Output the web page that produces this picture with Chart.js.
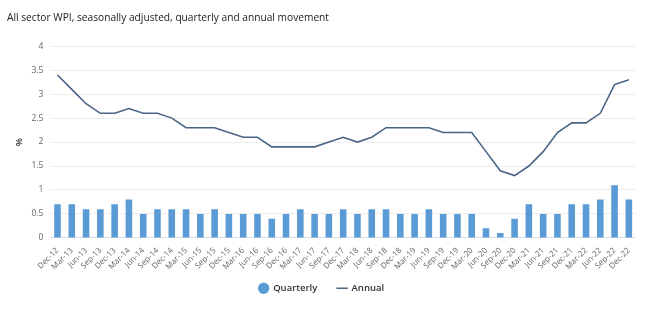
<!DOCTYPE html>
<html>
<head>
<meta charset="utf-8">
<script src="https://cdn.jsdelivr.net/npm/chart.js@4.4.1/dist/chart.umd.min.js"></script>
<style>
  html, body { margin: 0; padding: 0; background: #fff; }
  #wrap { width: 650px; height: 321px; position: relative; }
</style>
</head>
<body>
<div id="wrap"><canvas id="wpiChart"></canvas></div>
<script>
// quarter labels, Dec-12 .. Dec-22
const quarters = [
    'Dec-12', 'Mar-13', 'Jun-13', 'Sep-13', 'Dec-13', 'Mar-14', 'Jun-14', 'Sep-14', 'Dec-14',
    'Mar-15', 'Jun-15', 'Sep-15', 'Dec-15', 'Mar-16', 'Jun-16', 'Sep-16', 'Dec-16',
    'Mar-17', 'Jun-17', 'Sep-17', 'Dec-17', 'Mar-18', 'Jun-18', 'Sep-18', 'Dec-18',
    'Mar-19', 'Jun-19', 'Sep-19', 'Dec-19', 'Mar-20', 'Jun-20', 'Sep-20', 'Dec-20',
    'Mar-21', 'Jun-21', 'Sep-21', 'Dec-21', 'Mar-22', 'Jun-22', 'Sep-22', 'Dec-22'
];

// quarterly movement (%)
const quarterly = [
    0.7, 0.7, 0.6, 0.6, 0.7, 0.8, 0.5, 0.6, 0.6,
    0.6, 0.5, 0.6, 0.5, 0.5, 0.5, 0.4, 0.5,
    0.6, 0.5, 0.5, 0.6, 0.5, 0.6, 0.6, 0.5,
    0.5, 0.6, 0.5, 0.5, 0.5, 0.2, 0.1, 0.4,
    0.7, 0.5, 0.5, 0.7, 0.7, 0.8, 1.1, 0.8
];

// annual movement (%)
const annual = [
    3.4, 3.1, 2.8, 2.6, 2.6, 2.7, 2.6, 2.6, 2.5,
    2.3, 2.3, 2.3, 2.2, 2.1, 2.1, 1.9, 1.9,
    1.9, 1.9, 2.0, 2.1, 2.0, 2.1, 2.3, 2.3,
    2.3, 2.3, 2.2, 2.2, 2.2, 1.8, 1.4, 1.3,
    1.5, 1.8, 2.2, 2.4, 2.4, 2.6, 3.2, 3.3
];

// y axis ticks
const yTicks = [0, 0.5, 1, 1.5, 2, 2.5, 3, 3.5, 4];

const FONT = '"Open Sans", "Noto Sans", sans-serif';

// pull the legend a bit closer to the axis labels
const legendLift = {
    id: 'legendLift',
    afterLayout(chart, args, opts) {
        const lg = chart.legend;
        if (!lg) return;
        lg.top -= opts.by;
        lg.bottom -= opts.by;
    }
};

document.addEventListener('DOMContentLoaded', function () {
    const ctx = document.getElementById('wpiChart').getContext('2d');

    new Chart(ctx, {
        type: 'bar',
        data: {
            labels: quarters,
            datasets: [{
                label: 'Quarterly',
                data: quarterly,
                backgroundColor: '#5b9bd5',
                barPercentage: 0.46,
                categoryPercentage: 1,
                pointStyle: 'circle'
            }, {
                type: 'line',
                label: 'Annual',
                data: annual,
                borderColor: '#4a6584',
                backgroundColor: '#4a6584',
                borderWidth: 1.6,
                pointRadius: 0,
                tension: 0,
                fill: false,
                pointStyle: 'line'
            }]
        },
        plugins: [legendLift],
        options: {
            responsive: true,
            maintainAspectRatio: false,
            animation: false,
            layout: { padding: { left: 7, right: 14, top: 4, bottom: 10 } },
            plugins: {
                legendLift: { by: 8 },
                title: {
                    display: true,
                    text: 'All sector WPI, seasonally adjusted, quarterly and annual movement',
                    align: 'start',
                    color: '#222',
                    font: { family: FONT, size: 10.2, weight: 'normal' },
                    padding: { top: 8, bottom: 22 }
                },
                legend: {
                    position: 'bottom',
                    labels: {
                        usePointStyle: true,
                        color: '#333',
                        font: { family: FONT, size: 9.5, weight: '600' },
                        boxHeight: 8,
                        padding: 20
                    }
                },
                tooltip: { enabled: false }
            },
            scales: {
                x: {
                    grid: { display: false },
                    border: { display: false },
                    ticks: {
                        color: '#666',
                        font: { family: FONT, size: 8 },
                        maxRotation: 45,
                        minRotation: 45,
                        autoSkip: false,
                        padding: 0
                    }
                },
                y: {
                    min: 0,
                    max: 4,
                    afterBuildTicks: axis => {
                        axis.ticks = yTicks.map(v => ({ value: v }));
                    },
                    grid: {
                        color: c => (c.tick && c.tick.value === 0 ? '#d6e0ec' : '#ececec'),
                        lineWidth: 1,
                        drawTicks: false
                    },
                    border: { display: false },
                    ticks: {
                        color: '#666',
                        font: { family: FONT, size: 8.5 },
                        padding: 7,
                        callback: v => String(v)
                    },
                    title: {
                        display: true,
                        text: '%',
                        color: '#333',
                        font: { family: FONT, size: 9.5, weight: '600' },
                        padding: { top: 7, bottom: -1 }
                    }
                }
            }
        }
    });
});
</script>
</body>
</html>
